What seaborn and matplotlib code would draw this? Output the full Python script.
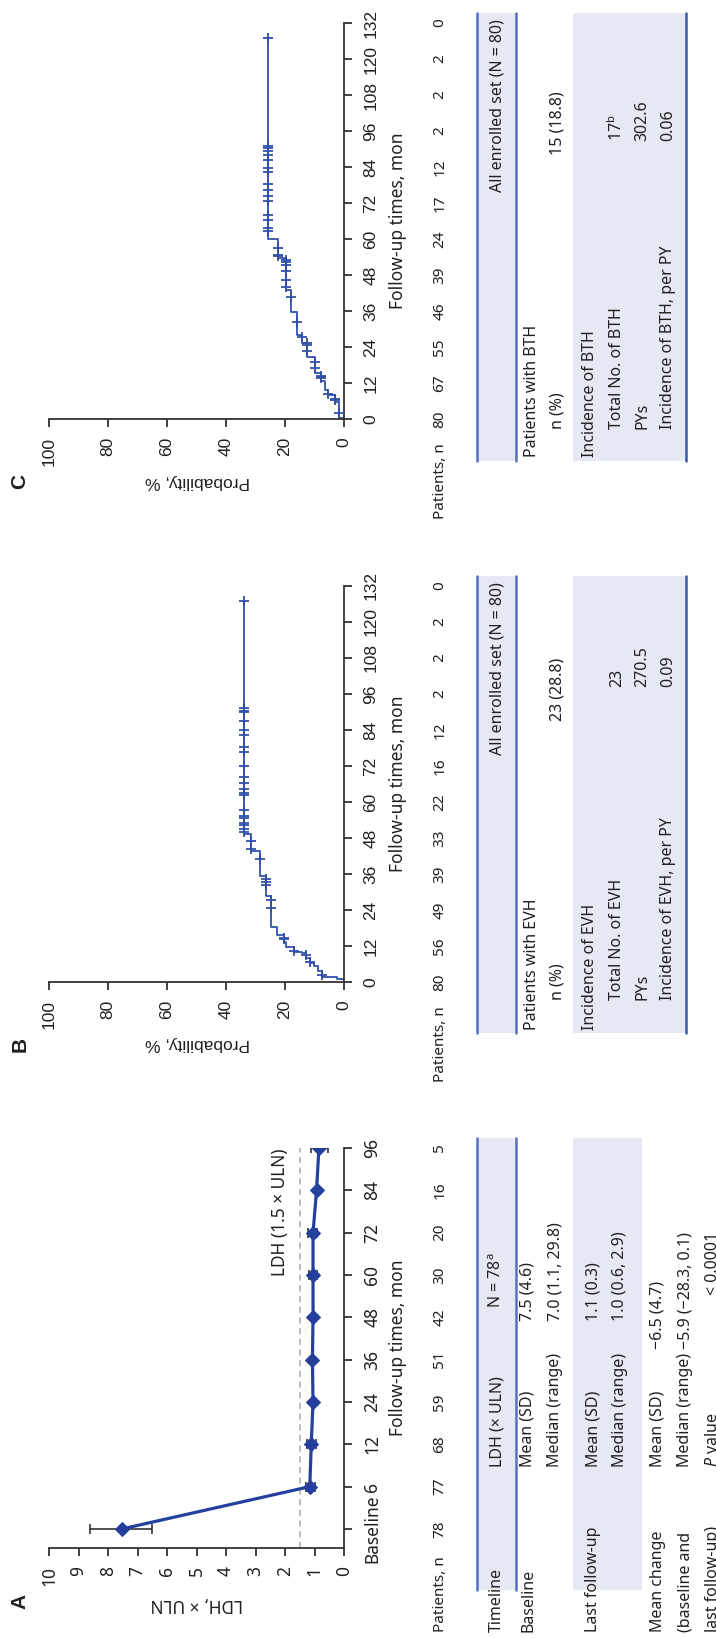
import numpy as np
import pandas as pd
import matplotlib.pyplot as plt
import matplotlib.transforms as mtransforms
from matplotlib.patches import Rectangle
import seaborn as sns

####################################
# data
####################################

# A: LDH over time
ldh_visits = ['Baseline', '6', '12', '24', '36', '48', '60', '72', '84', '96']
ldh_mean = [7.53, 1.16, 1.11, 1.05, 1.07, 1.05, 1.05, 1.05, 0.93, 0.85]
ldh_low = [6.51, 1.00, 0.96, 1.02, 1.03, 1.02, 0.92, 0.92, 0.91, 0.54]
ldh_high = [8.60, 1.28, 1.25, 1.08, 1.10, 1.08, 1.19, 1.22, 0.95, 1.11]
ldh_patients = [78, 77, 68, 59, 51, 42, 30, 20, 16, 5]
ldh_threshold = 1.5

# B / C: cumulative incidence (time in months, value in %)
km_ticks = [0, 12, 24, 36, 48, 60, 72, 84, 96, 108, 120, 132]

evh_event_t = [0.9, 1.7, 3.8, 5.5, 6.5, 8.0, 9.6, 10.0, 11.7, 13.5, 15.7, 18.5, 28.6, 35.5, 43.8, 49.5]
evh_event_v = [2.5, 7.5, 8.8, 10.1, 11.4, 12.8, 14.2, 16.9, 19.6, 20.2, 22.6, 24.6, 26.3, 28.4, 31.6, 33.8]
evh_censor_t = [2.4, 6.8, 9.0, 10.3, 14.3, 14.8, 24.6, 27.4, 32.3, 33.2, 34.4, 40.9, 44.3, 47.0,
                49.9, 51.0, 52.2, 53.0, 54.8, 55.4, 57.4, 62.3, 62.9, 64.2, 66.5, 68.2, 71.9,
                76.8, 78.5, 82.5, 84.0, 87.1, 89.9, 90.5, 91.3, 127.0]
evh_patients = [80, 56, 49, 39, 33, 22, 16, 12, 2, 2, 2, 0]

bth_event_t = [0.2, 5.8, 8.1, 9.6, 12.6, 15.5, 20.8, 25.5, 28.0, 35.7, 43.1, 53.6, 59.9]
bth_event_v = [1.6, 3.0, 5.3, 6.6, 7.8, 9.8, 12.7, 14.4, 16.1, 18.0, 19.8, 22.3, 25.7]
bth_censor_t = [1.9, 6.3, 6.8, 8.3, 13.6, 14.1, 14.5, 16.9, 19.1, 22.8, 24.8, 25.2, 27.5, 32.5,
                40.7, 44.0, 46.4, 49.3, 51.5, 52.2, 53.0, 54.2, 54.6, 57.1, 62.7, 63.8, 66.5,
                67.9, 72.6, 74.4, 76.4, 78.3, 82.3, 83.8, 86.2, 88.0, 89.4, 90.3, 91.1, 126.9]
bth_patients = [80, 67, 55, 46, 39, 24, 17, 12, 2, 2, 2, 0]

# tables
ldh_tab_col1 = ['Timeline', 'Baseline', '', 'Last follow-up', '', 'Mean change',
                '(baseline and', 'last follow-up)']
ldh_tab_col2 = ['LDH (× ULN)', 'Mean (SD)', 'Median (range)', 'Mean (SD)', 'Median (range)',
                'Mean (SD)', 'Median (range)', r'$P$ value']
ldh_tab_col3 = [r'N = 78$^{\mathrm{a}}$', '7.5 (4.6)', '7.0 (1.1, 29.8)', '1.1 (0.3)',
                '1.0 (0.6, 2.9)', '−6.5 (4.7)', '−5.9 (−28.3, 0.1)', '< 0.0001']

evh_tab_labels = ['Patients with EVH', 'n (%)', 'Incidence of EVH', 'Total No. of EVH', 'PYs',
                  'Incidence of EVH, per PY']
evh_tab_values = ['', '23 (28.8)', '', '23', '270.5', '0.09']
bth_tab_labels = ['Patients with BTH', 'n (%)', 'Incidence of BTH', 'Total No. of BTH', 'PYs',
                  'Incidence of BTH, per PY']
bth_tab_values = ['', '15 (18.8)', '', r'17$^{\mathrm{b}}$', '302.6', '0.06']
header_all = 'All enrolled set (N = 80)'

####################################
# style
####################################

sns.set_theme(style='ticks')
plt.rcParams['font.family'] = ['Noto Sans', 'DejaVu Sans']
plt.rcParams['mathtext.fontset'] = 'custom'
plt.rcParams['mathtext.rm'] = 'Noto Sans'
plt.rcParams['mathtext.it'] = 'Noto Sans:italic'

TXT = '#231f20'
BLUE = '#24409c'
KMBLUE = '#3150a8'
BAND = '#e6e9f4'
LINE = '#5470c0'
W, H = 716, 1638
FS = 11.5

fig = plt.figure(figsize=(W / 100, H / 100), dpi=100)

# pixel-space background axes for tables and loose text
ax_bg = fig.add_axes([0, 0, 1, 1])
ax_bg.set_xlim(0, W)
ax_bg.set_ylim(H, 0)
ax_bg.axis('off')


def px_axes(left, top, right, bottom):
    ax = fig.add_axes([left / W, 1 - bottom / H, (right - left) / W, (bottom - top) / H])
    ax.set_facecolor('none')
    return ax


def rtext(x, y, s, va='bottom', ha='center', size=FS, rot=90, **kw):
    ax_bg.text(x, y, s, rotation=rot, ha=ha, va=va, fontsize=size, color=TXT, **kw)


def style_panel(ax, xlab_font=None):
    sns.despine(ax=ax, top=True, left=True, right=False, bottom=False)
    ax.yaxis.tick_right()
    for sp in ['right', 'bottom']:
        ax.spines[sp].set_color('#333333')
        ax.spines[sp].set_linewidth(1.3)
    ax.tick_params(axis='x', direction='out', length=6, width=1.2, pad=7,
                   labelrotation=90, labelsize=12.5, colors=TXT)
    ax.tick_params(axis='y', direction='out', length=6, width=1.2, pad=8,
                   labelrotation=90, labelsize=12.5, colors=TXT)
    for lab in ax.get_yticklabels():
        lab.set_va('center')
    if xlab_font:
        for lab in ax.get_xticklabels() + ax.get_yticklabels():
            lab.set_family(xlab_font)
    ax.set_xlabel('')
    ax.set_ylabel('')


def patients_row(ax, pos, values, label_bottom):
    trans = mtransforms.blended_transform_factory(ax_bg.transData, ax.transData)
    for p, n in zip(pos, values):
        ax.text(440, p, str(n), transform=trans, rotation=90, ha='center', va='center',
                fontsize=11, color=TXT)
    rtext(440, label_bottom, 'Patients, n', size=11)


def km_path(event_t, event_v, end_t):
    t_path, v_path = [0.0], [0.0]
    prev = 0.0
    for t, v in zip(event_t, event_v):
        t_path += [t, t]
        v_path += [prev, v]
        prev = v
    t_path.append(end_t)
    v_path.append(prev)
    return pd.DataFrame({'t': t_path, 'v': v_path})


def km_censor(event_t, event_v, censor_t):
    steps = np.array([0.0] + list(event_v))
    idx = np.searchsorted(np.array(event_t), np.array(censor_t), side='right')
    return pd.DataFrame({'t': censor_t, 'v': steps[idx]})


####################################
# Panel A
####################################

axA = px_axes(49, 1148, 344, 1548)
posA = np.arange(len(ldh_visits))
dfA = pd.DataFrame({'pos': posA, 'mean': ldh_mean})
axA.axvline(ldh_threshold, color='#aaaaaa', lw=1.1, ls=(0, (4, 3)), zorder=1)
axA.errorbar(ldh_mean, posA,
             xerr=[np.array(ldh_mean) - np.array(ldh_low), np.array(ldh_high) - np.array(ldh_mean)],
             fmt='none', ecolor='#222222', elinewidth=1.1, capsize=3.5, capthick=1.1, zorder=2)
sns.lineplot(data=dfA, x='mean', y='pos', sort=False, estimator=None, orient='y',
             color=BLUE, lw=2.3, marker='D', markersize=7, markeredgecolor=BLUE, ax=axA, zorder=3)
axA.set_xlim(10, 0)
axA.set_ylim(-0.45, 9)
axA.set_xticks(range(0, 11))
axA.set_yticks(posA)
axA.set_yticklabels(ldh_visits)
style_panel(axA)
rtext(280, 1149, 'LDH (1.5 × ULN)', va='top', size=12.5)
rtext(398, 1348, 'Follow-up times, mon', va='center', size=12.5)
rtext(197, 1604, 'LDH, × ULN', va='center', size=12.5, rot=180)
rtext(20, 1601, 'A', va='center', size=15, fontweight='bold', family='Liberation Sans')
patients_row(axA, posA, ldh_patients, 1632)

# table A
for x0, x1 in [(477, 516), (573, 642)]:
    ax_bg.add_patch(Rectangle((x0, 1138), x1 - x0, 1590 - 1138, facecolor=BAND, edgecolor='none', zorder=0))
for x in [477, 516]:
    ax_bg.plot([x, x], [1138, 1590], color=LINE, lw=1.8, zorder=1)
rowsA = [497, 528, 555, 593, 620, 658, 685, 713]
col3_start = [1308, 1321, 1321, 1321, 1321, 1349, 1349, 1295]
for x, c1, c2, c3, y3 in zip(rowsA, ldh_tab_col1, ldh_tab_col2, ldh_tab_col3, col3_start):
    if c1:
        rtext(x, 1632, c1)
    rtext(x, 1467, c2)
    rtext(x, y3, c3)

####################################
# Panel B / C
####################################

def km_panel(top, bottom, event_t, event_v, censor_t, patients, letter, tab_labels, tab_values,
             tab_top, tab_bottom, lab_start, lab_start2, val_start, val_start2):
    ax = px_axes(49, top, 344, bottom)
    path = km_path(event_t, event_v, max(censor_t))
    cens = km_censor(event_t, event_v, censor_t)
    sns.lineplot(data=path, x='v', y='t', sort=False, estimator=None, color=KMBLUE, lw=1.3, ax=ax)
    sns.scatterplot(data=cens, x='v', y='t', marker='+', s=55, color=KMBLUE, linewidth=1.3, ax=ax,
                    zorder=3)
    ax.set_xlim(100, 0)
    ax.set_ylim(0, 132)
    ax.set_xticks(range(0, 101, 20))
    ax.set_yticks(km_ticks)
    style_panel(ax, xlab_font='Liberation Sans')
    mid = (top + bottom) / 2
    rtext(398, mid, 'Follow-up times, mon', va='center', size=12.5)
    rtext(197, bottom + 62, 'Probability, %', va='center', size=12.5, rot=180,
          family='Liberation Sans')
    rtext(20, bottom + 62, letter, va='center', size=15, fontweight='bold',
          family='Liberation Sans')
    patients_row(ax, km_ticks, patients, bottom + 100)

    # table
    for x0, x1 in [(477, 516), (573, 686)]:
        ax_bg.add_patch(Rectangle((x0, tab_top), x1 - x0, tab_bottom - tab_top, facecolor=BAND,
                                  edgecolor='none', zorder=0))
    for x in [477, 516]:
        ax_bg.plot([x, x], [tab_top, tab_bottom], color=LINE, lw=1.8, zorder=1)
    ax_bg.plot([686, 686], [tab_top, tab_bottom], color='#3a55b0', lw=1.8, zorder=1)
    rtext(497, tab_top + 6, header_all, va='top')
    rows = [532, 558, 590, 617, 642, 668]
    lab_y = [lab_start, lab_start2, lab_start, lab_start2, lab_start2, lab_start2]
    val_y = [0, val_start, 0, val_start2, val_start2, val_start2]
    for x, lab, val, ly, vy in zip(rows, tab_labels, tab_values, lab_y, val_y):
        rtext(x, ly, lab)
        if val:
            rtext(x, vy, val)
    return ax


axB = km_panel(586, 982, evh_event_t, evh_event_v, evh_censor_t, evh_patients, 'B',
               evh_tab_labels, evh_tab_values, 576, 1033, 1030, 1000, 721, 687)
axC = km_panel(23, 419, bth_event_t, bth_event_v, bth_censor_t, bth_patients, 'C',
               bth_tab_labels, bth_tab_values, 13, 461, 457, 429, 155, 141)

plt.savefig('out.png', dpi=100)
